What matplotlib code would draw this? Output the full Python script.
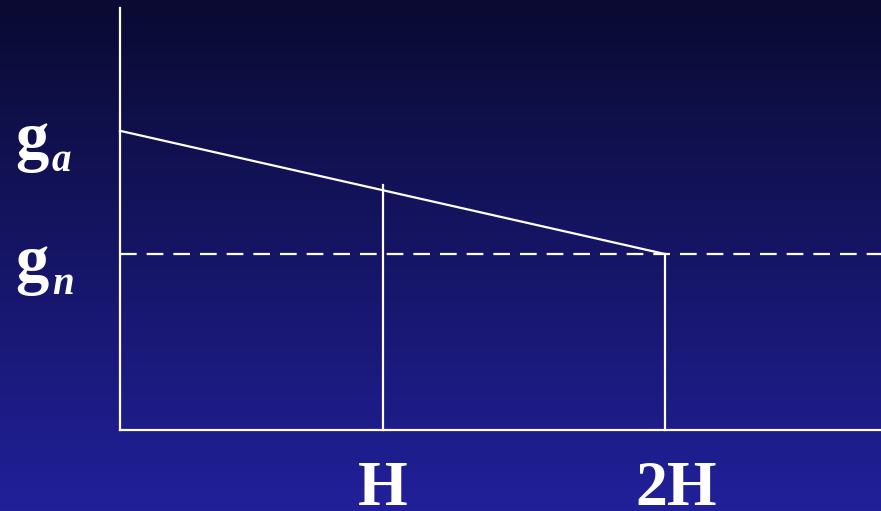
"""
Gravity sketch: g_a above g_n, decreasing from 0 to 2H.
"""

import numpy as np
import matplotlib
matplotlib.use("Agg")
import matplotlib.pyplot as plt
from matplotlib.colors import LinearSegmentedColormap

plt.rcParams["font.family"] = ["Liberation Serif", "DejaVu Serif"]

# ---------------------------------------------------------------------------
# Data (units: x in H, y in g_n)
# ---------------------------------------------------------------------------
g_a = 1.70
g_n = 1.00
x_H = 0.965
x_2H = 2.0
y_at_H = 1.39          # where the H marker meets the sloped line
tick_pos = [x_H, x_2H]
tick_labels = ["H", "2H"]
label_shift = [0.0, 0.04]   # "2H" sits a bit right of its marker

XLIM = (-0.440, 2.793)
YLIM = (-0.460, 2.443)
Y_TOP = 2.40

fig = plt.figure(figsize=(8.81, 5.11), dpi=100)
ax = fig.add_axes([0, 0, 1, 1])
ax.set_xlim(*XLIM)
ax.set_ylim(*YLIM)
ax.axis("off")

# background gradient
cmap = LinearSegmentedColormap.from_list("bg", ["#21209a", "#0a0a32"])
grad = np.linspace(0, 1, 256).reshape(-1, 1)
ax.imshow(grad, cmap=cmap, extent=[*XLIM, *YLIM], aspect="auto",
          origin="lower", zorder=0)

lw = 1.6
# axes
ax.plot([0, 0], [0, Y_TOP], color="white", lw=lw, zorder=2)
ax.plot([0, XLIM[1]], [0, 0], color="white", lw=lw, zorder=2)

# g_n dashed level
ax.plot([0, XLIM[1]], [g_n, g_n], color="white", lw=lw,
        dashes=(7.5, 4.5), zorder=2)

# sloped line g_a -> g_n
ax.plot([0, x_2H], [g_a, g_n], color="white", lw=lw, zorder=2)

# verticals at H and 2H
ax.plot([x_H, x_H], [0, y_at_H], color="white", lw=lw, zorder=2)
ax.plot([x_2H, x_2H], [0, g_n], color="white", lw=lw, zorder=2)

# x labels
for xp, dx, lab in zip(tick_pos, label_shift, tick_labels):
    ax.text(xp + dx, -0.425, lab, color="white", fontsize=46,
            fontweight="bold", ha="center", va="baseline", zorder=3)

# y labels
for yv, sub in [(g_a, "a"), (g_n, "n")]:
    ax.text(-0.385, yv - 0.16, "g", color="white", fontsize=48,
            fontweight="bold", ha="left", va="baseline", zorder=3)
    ax.text(-0.250, yv - 0.23, sub, color="white", fontsize=28,
            fontweight="bold", style="italic", ha="left", va="baseline",
            zorder=3)

plt.savefig("out.png", dpi=100)
plt.close()
